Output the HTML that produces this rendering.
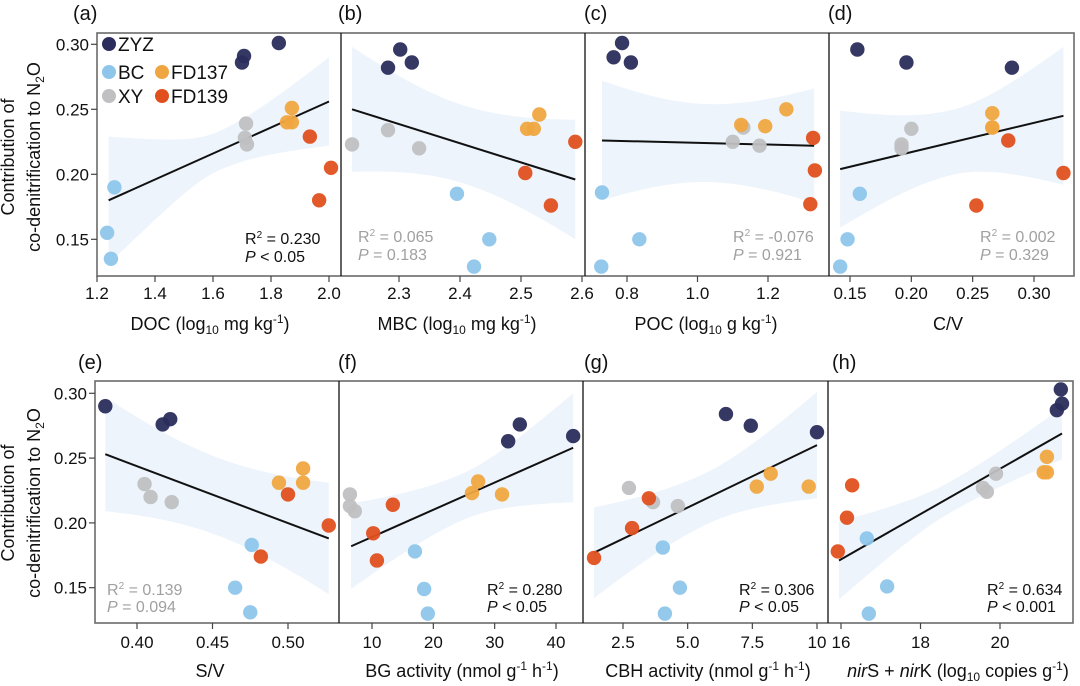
<!DOCTYPE html>
<html><head><meta charset="utf-8"><style>
html,body{margin:0;padding:0;background:#fff;}
svg{display:block;font-family:"Liberation Sans",Arial,sans-serif;}
</style></head><body>
<svg id="chart" width="1080" height="686" viewBox="0 0 1080 686" xmlns="http://www.w3.org/2000/svg">
<g id="bands"></g><g id="lines"></g><g id="points"></g><g id="axes"></g>
<g font-size="18" fill="#111" text-anchor="middle">
<text transform="translate(14,157) rotate(-90)">Contribution of</text>
<text transform="translate(40,157) rotate(-90)">co-denitrification to N<tspan font-size="12" dy="4">2</tspan><tspan dy="-4">O</tspan></text>
</g>
<g font-size="18" fill="#111" text-anchor="middle">
<text transform="translate(14,503) rotate(-90)">Contribution of</text>
<text transform="translate(40,503) rotate(-90)">co-denitrification to N<tspan font-size="12" dy="4">2</tspan><tspan dy="-4">O</tspan></text>
</g>
<g font-size="18" fill="#111" text-anchor="middle">
<text x="210" y="330">DOC (log<tspan font-size="12" dy="4">10</tspan><tspan dy="-4"> mg kg</tspan><tspan font-size="12" dy="-7">-1</tspan><tspan dy="7">)</tspan></text>
<text x="457" y="330">MBC (log<tspan font-size="12" dy="4">10</tspan><tspan dy="-4"> mg kg</tspan><tspan font-size="12" dy="-7">-1</tspan><tspan dy="7">)</tspan></text>
<text x="706" y="330">POC (log<tspan font-size="12" dy="4">10</tspan><tspan dy="-4"> g kg</tspan><tspan font-size="12" dy="-7">-1</tspan><tspan dy="7">)</tspan></text>
<text x="948" y="330">C/V</text>
<text x="210" y="677">S/V</text>
<text x="462" y="677">BG activity (nmol g<tspan font-size="12" dy="-7">-1</tspan><tspan dy="7"> h</tspan><tspan font-size="12" dy="-7">-1</tspan><tspan dy="7">)</tspan></text>
<text x="708" y="677">CBH activity (nmol g<tspan font-size="12" dy="-7">-1</tspan><tspan dy="7"> h</tspan><tspan font-size="12" dy="-7">-1</tspan><tspan dy="7">)</tspan></text>
<text x="958" y="677"><tspan font-style="italic">nir</tspan>S + <tspan font-style="italic">nir</tspan>K (log<tspan font-size="12" dy="4">10</tspan><tspan dy="-4"> copies g</tspan><tspan font-size="12" dy="-7">-1</tspan><tspan dy="7">)</tspan></text>
</g>
<g font-size="20" fill="#111">
<text x="73" y="20">(a)</text><text x="338" y="20">(b)</text><text x="584" y="20">(c)</text><text x="828" y="20">(d)</text>
<text x="78" y="369">(e)</text><text x="338" y="369">(f)</text><text x="584" y="369">(g)</text><text x="832" y="369">(h)</text>
</g>
<g font-size="16">
<g fill="#111"><text x="245" y="244">R<tspan font-size="10" dy="-6">2</tspan><tspan dy="6"> = 0.230</tspan></text><text x="245" y="262"><tspan font-style="italic">P</tspan> &lt; 0.05</text></g>
<g fill="#a0a0a0"><text x="358" y="242">R<tspan font-size="10" dy="-6">2</tspan><tspan dy="6"> = 0.065</tspan></text><text x="358" y="260"><tspan font-style="italic">P</tspan> = 0.183</text></g>
<g fill="#a0a0a0"><text x="733" y="242">R<tspan font-size="10" dy="-6">2</tspan><tspan dy="6"> = -0.076</tspan></text><text x="733" y="260"><tspan font-style="italic">P</tspan> = 0.921</text></g>
<g fill="#a0a0a0"><text x="980" y="242">R<tspan font-size="10" dy="-6">2</tspan><tspan dy="6"> = 0.002</tspan></text><text x="980" y="260"><tspan font-style="italic">P</tspan> = 0.329</text></g>
<g fill="#a0a0a0"><text x="107" y="595">R<tspan font-size="10" dy="-6">2</tspan><tspan dy="6"> = 0.139</tspan></text><text x="107" y="612"><tspan font-style="italic">P</tspan> = 0.094</text></g>
<g fill="#111"><text x="487" y="595">R<tspan font-size="10" dy="-6">2</tspan><tspan dy="6"> = 0.280</tspan></text><text x="487" y="612"><tspan font-style="italic">P</tspan> &lt; 0.05</text></g>
<g fill="#111"><text x="739" y="595">R<tspan font-size="10" dy="-6">2</tspan><tspan dy="6"> = 0.306</tspan></text><text x="739" y="612"><tspan font-style="italic">P</tspan> &lt; 0.05</text></g>
<g fill="#111"><text x="987" y="595">R<tspan font-size="10" dy="-6">2</tspan><tspan dy="6"> = 0.634</tspan></text><text x="987" y="612"><tspan font-style="italic">P</tspan> &lt; 0.001</text></g>
</g>
<g font-size="19" fill="#111">
<circle cx="109" cy="44" r="7" fill="#2b2d5c"/><text x="118" y="51">ZYZ</text>
<circle cx="109" cy="72" r="7" fill="#8ec6eb"/><text x="118" y="79">BC</text>
<circle cx="162" cy="72" r="7" fill="#f0a640"/><text x="171" y="79">FD137</text>
<circle cx="109" cy="96" r="7" fill="#c0c0c2"/><text x="118" y="103">XY</text>
<circle cx="162" cy="96" r="7" fill="#e0501f"/><text x="171" y="103">FD139</text>
</g>
</svg>
<script>
// point order per panel: ZYZ x3, BC x3, XY x3, FD137 x3, FD139 x3
const groups = ['ZYZ','ZYZ','ZYZ','BC','BC','BC','XY','XY','XY','FD137','FD137','FD137','FD139','FD139','FD139'];
const colors = {ZYZ:'#2b2d5c',BC:'#8ec6eb',XY:'#c0c0c2',FD137:'#f0a640',FD139:'#e0501f'};
const yTicks = [0.15,0.20,0.25,0.30];
const yTickLabels = ['0.15','0.20','0.25','0.30'];

const aX = [1.707,1.70,1.827, 1.26,1.235,1.248, 1.714,1.71,1.717, 1.872,1.855,1.872, 1.934,2.007,1.966];
const aY = [0.291,0.286,0.301, 0.190,0.155,0.135, 0.239,0.228,0.223, 0.251,0.240,0.240, 0.229,0.205,0.180];
const aLine = [1.24,0.180,2.0,0.256];
const aBand = [0.049,0.015,0.034];
const aTicks = [1.2,1.4,1.6,1.8,2.0];
const aTickLabels = ['1.2','1.4','1.6','1.8','2.0'];

const bX = [2.302,2.282,2.321, 2.395,2.448,2.423, 2.223,2.282,2.333, 2.530,2.51,2.521, 2.589,2.507,2.549];
const bY = [0.296,0.282,0.286, 0.185,0.150,0.129, 0.223,0.234,0.220, 0.246,0.235,0.235, 0.225,0.201,0.176];
const bLine = [2.223,0.250,2.589,0.196];
const bBand = [0.048,0.03,0.046];
const bTicks = [2.3,2.4,2.5,2.6];
const bTickLabels = ['2.3','2.4','2.5','2.6'];

const cX = [0.786,0.762,0.811, 0.729,0.835,0.727, 1.100,1.176,1.13, 1.124,1.192,1.252, 1.328,1.333,1.320];
const cY = [0.301,0.290,0.286, 0.186,0.150,0.129, 0.225,0.222,0.236, 0.238,0.237,0.250, 0.228,0.203,0.177];
const cLine = [0.729,0.226,1.331,0.222];
const cBand = [0.046,0.03,0.044];
const cTicks = [0.8,1.0,1.2];
const cTickLabels = ['0.8','1.0','1.2'];

const dX = [0.156,0.196,0.282, 0.158,0.148,0.142, 0.200,0.192,0.192, 0.266,0.266,0.266, 0.279,0.324,0.253];
const dY = [0.296,0.286,0.282, 0.185,0.150,0.129, 0.235,0.223,0.220, 0.247,0.236,0.236, 0.226,0.201,0.176];
const dLine = [0.142,0.204,0.324,0.245];
const dBand = [0.045,0.025,0.053];
const dTicks = [0.15,0.20,0.25,0.30];
const dTickLabels = ['0.15','0.20','0.25','0.30'];

const eX = [0.379,0.417,0.422, 0.476,0.465,0.475, 0.405,0.409,0.423, 0.494,0.510,0.510, 0.500,0.527,0.482];
const eY = [0.290,0.276,0.280, 0.183,0.150,0.131, 0.230,0.220,0.216, 0.231,0.242,0.231, 0.222,0.198,0.174];
const eLine = [0.379,0.253,0.527,0.188];
const eBand = [0.044,0.03,0.043];
const eTicks = [0.40,0.45,0.50];
const eTickLabels = ['0.40','0.45','0.50'];

const fX = [34.1,32.2,42.8, 17.0,18.5,19.1, 6.4,6.4,7.2, 27.3,26.3,31.2, 13.4,10.2,10.8];
const fY = [0.276,0.263,0.267, 0.178,0.149,0.130, 0.222,0.213,0.209, 0.232,0.223,0.222, 0.214,0.192,0.171];
const fLine = [6.6,0.182,42.8,0.258];
const fBand = [0.033,0.018,0.042];
const fTicks = [10,20,30,40];
const fTickLabels = ['10','20','30','40'];

const gX = [6.48,7.44,10.0, 4.04,4.7,4.12, 2.73,3.66,4.62, 8.21,7.67,9.68, 1.38,3.5,2.85];
const gY = [0.284,0.275,0.270, 0.181,0.150,0.130, 0.227,0.216,0.213, 0.238,0.228,0.228, 0.173,0.219,0.196];
const gLine = [1.38,0.177,10.0,0.260];
const gBand = [0.035,0.02,0.041];
const gTicks = [2.5,5.0,7.5,10];
const gTickLabels = ['2.5','5.0','7.5','10'];

const hX = [21.53,21.56,21.43, 16.65,17.16,16.7, 19.9,19.57,19.67, 21.18,21.1,21.18, 16.28,16.15,15.92];
const hY = [0.303,0.292,0.287, 0.188,0.151,0.130, 0.238,0.227,0.224, 0.251,0.239,0.239, 0.229,0.204,0.178];
const hLine = [15.95,0.171,21.56,0.269];
const hBand = [0.03,0.012,0.02];
const hTicks = [16,18,20];
const hTickLabels = ['16','18','20'];

const NS='http://www.w3.org/2000/svg';
function mk(tag,attrs,parent){const e=document.createElementNS(NS,tag);for(const k in attrs)e.setAttribute(k,attrs[k]);parent.appendChild(e);return e;}
const rows=[{top:33,bottom:276,left:97,right:1074,y30:44.3,k:1300,tickBase:299},{top:381,bottom:623,left:95,right:1073,y30:393.3,k:1296,tickBase:648}];
const panels=[
 {id:'a',row:0,x:aX,y:aY,line:aLine,band:aBand,ticks:aTicks,labels:aTickLabels,r0:[1.2,97],r1:[2.0,329],div:341},
 {id:'b',row:0,x:bX,y:bY,line:bLine,band:bBand,ticks:bTicks,labels:bTickLabels,r0:[2.3,399],r1:[2.6,582],div:585},
 {id:'c',row:0,x:cX,y:cY,line:cLine,band:cBand,ticks:cTicks,labels:cTickLabels,r0:[0.8,627],r1:[1.2,768],div:829},
 {id:'d',row:0,x:dX,y:dY,line:dLine,band:dBand,ticks:dTicks,labels:dTickLabels,r0:[0.15,850],r1:[0.30,1034],div:null},
 {id:'e',row:1,x:eX,y:eY,line:eLine,band:eBand,ticks:eTicks,labels:eTickLabels,r0:[0.40,137],r1:[0.50,288],div:339},
 {id:'f',row:1,x:fX,y:fY,line:fLine,band:fBand,ticks:fTicks,labels:fTickLabels,r0:[10,372],r1:[40,556],div:583},
 {id:'g',row:1,x:gX,y:gY,line:gLine,band:gBand,ticks:gTicks,labels:gTickLabels,r0:[2.5,623],r1:[10,817],div:828},
 {id:'h',row:1,x:hX,y:hY,line:hLine,band:hBand,ticks:hTicks,labels:hTickLabels,r0:[16,841],r1:[20,1000],div:null}
];
const gB=document.getElementById('bands'),gL=document.getElementById('lines'),gP=document.getElementById('points'),gA=document.getElementById('axes');
rows.forEach((R,ri)=>{
 const fr=mk('rect',{x:R.left,y:R.top,width:R.right-R.left,height:R.bottom-R.top,fill:'none',stroke:'#6a6a6a','stroke-width':1.6},gA);
 
 
 const ys=v=>R.y30+(0.30-v)*R.k;
 yTicks.forEach((t,i)=>{
  mk('line',{x1:R.left-6,x2:R.left,y1:ys(t),y2:ys(t),stroke:'#444','stroke-width':1.2},gA);
  const tx=mk('text',{x:R.left-8,y:ys(t)+6,'text-anchor':'end','font-size':17,fill:'#111'},gA);
  
  
  tx.textContent=yTickLabels[i];
 });
});
panels.forEach(P=>{
 const R=rows[P.row];
 const xs=v=>P.r0[1]+(v-P.r0[0])*(P.r1[1]-P.r0[1])/(P.r1[0]-P.r0[0]);
 const ys=v=>R.y30+(0.30-v)*R.k;
 const [x0,y0,x1,y1]=P.line,[hl,hm,hr]=P.band;
 const up=[],lo=[];
 for(let i=0;i<=40;i++){const t=i/40,x=x0+t*(x1-x0),yv=y0+t*(y1-y0);
  const s=Math.abs(t-0.5)/0.5,he=t<0.5?hl:hr;const hw=Math.sqrt(hm*hm+(he*he-hm*hm)*s*s);
  up.push(xs(x).toFixed(1)+','+ys(yv+hw).toFixed(1));lo.unshift(xs(x).toFixed(1)+','+ys(yv-hw).toFixed(1));}
 const band=mk('polygon',{points:up.concat(lo).join(' '),fill:'#edf4fc'},gB);
 
 
 const ln=mk('line',{x1:xs(x0),y1:ys(y0),x2:xs(x1),y2:ys(y1),stroke:'#111','stroke-width':2},gL);
 
 
 P.x.forEach((v,i)=>{
  const c=mk('circle',{cx:xs(v),cy:ys(P.y[i]),r:7.2,fill:colors[groups[i]],'fill-opacity':0.95},gP);
  
  
 });
 P.ticks.forEach((t,i)=>{
  mk('line',{x1:xs(t),x2:xs(t),y1:R.bottom,y2:R.bottom+6,stroke:'#444','stroke-width':1.2},gA);
  const tx=mk('text',{x:xs(t),y:R.tickBase,'text-anchor':'middle','font-size':17,fill:'#111'},gA);
  
  
  tx.textContent=P.labels[i];
 });
 if(P.div){const d=mk('line',{x1:P.div,x2:P.div,y1:R.top,y2:R.bottom,stroke:'#111','stroke-width':1.3},gA);
  
  }
});
</script>
</body></html>
